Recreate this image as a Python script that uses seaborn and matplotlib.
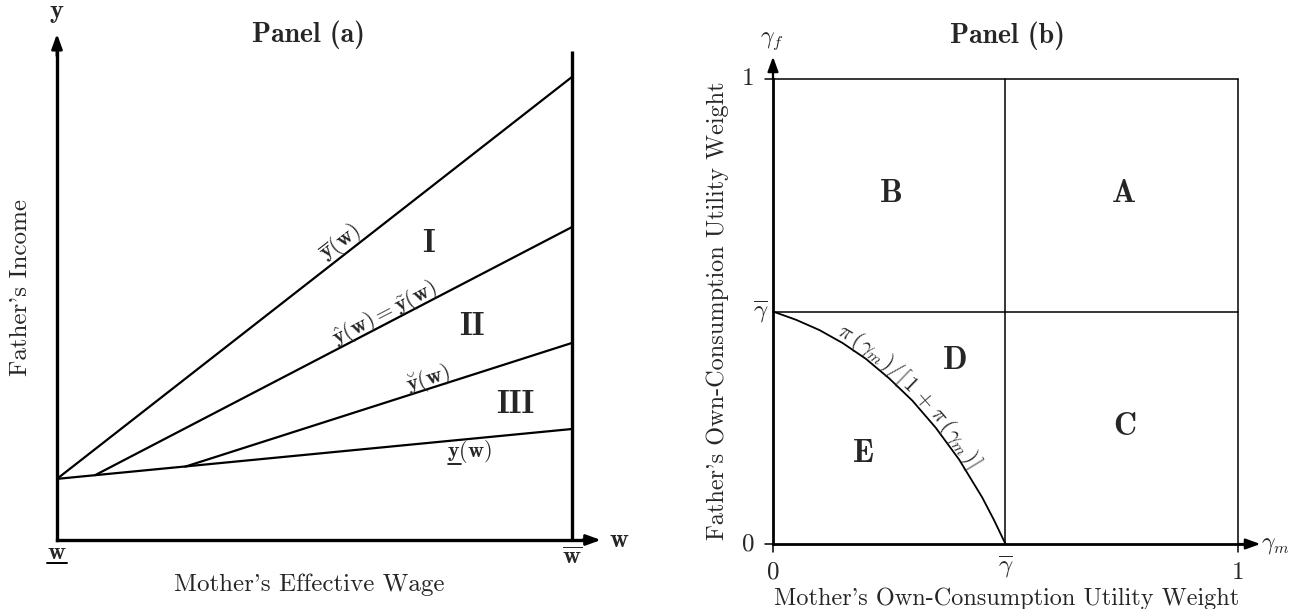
import matplotlib
matplotlib.use('Agg')
import matplotlib.pyplot as plt
import numpy as np
import pandas as pd
import seaborn as sns

# Panel (a): four income thresholds drawn from their kink to w_bar (w_low = 0, w_bar = 1)
line_names = ['ybar', 'yhat', 'ybreve', 'ylow']
line_w0 = [0.0, 0.074, 0.249, 0.0]
line_y0 = [0.125, 0.1326, 0.150, 0.125]
line_w1 = [1.0, 1.0, 1.0, 1.0]
line_y1 = [0.947, 0.640, 0.403, 0.227]
line_texts = [r'$\overline{\mathbf{y}}(\mathbf{w})$',
              r'$\hat{\mathbf{y}}(\mathbf{w}) = \tilde{\mathbf{y}}(\mathbf{w})$',
              r'$\breve{\mathbf{y}}(\mathbf{w})$',
              r'$\mathbf{y}(\mathbf{w})$']
regions_a = ['I', 'II', 'III']

# Panel (b): utility weight thresholds
gamma_bar = 0.5
curve_gm = [0.0, 0.05, 0.10, 0.15, 0.20, 0.25, 0.30, 0.35, 0.40, 0.45, 0.475, 0.50]
curve_gf = [0.5, 0.482, 0.460, 0.432, 0.398, 0.356, 0.308, 0.250, 0.182, 0.100, 0.052, 0.0]
curve_label = [r'$\pi$', r'$($', r'$\gamma_m$', r'$)$', r'$/$', r'$[$', r'$1$',
               r'$+$', r'$\pi$', r'$($', r'$\gamma_m$', r'$)$', r'$]$']
regions_b = ['A', 'B', 'C', 'D', 'E']

sns.set_theme(style='white')
plt.rcParams['font.family'] = ['cmr10', 'DejaVu Serif']
plt.rcParams['mathtext.fontset'] = 'cm'
plt.rcParams['axes.unicode_minus'] = False

W, H = 1295, 609
fig = plt.figure(figsize=(W / 100, H / 100), dpi=100)
fig.patch.set_facecolor('white')


def screen_angle(ax, x0, y0, x1, y1):
    p = ax.transData.transform([(x0, y0), (x1, y1)])
    return np.degrees(np.arctan2(p[1, 1] - p[0, 1], p[1, 0] - p[0, 0]))


def arrow(ax, start, end, lw):
    ax.annotate('', xy=end, xytext=start, annotation_clip=False,
                arrowprops=dict(arrowstyle='-|>,head_length=0.55,head_width=0.2',
                                lw=lw, color='black', shrinkA=0, shrinkB=0,
                                mutation_scale=16))


# ---------------- Panel (a) ----------------
axa = fig.add_axes([57 / W, (H - 540) / H, 515 / W, 489 / H])
axa.set_xlim(0, 1)
axa.set_ylim(0, 1)
axa.axis('off')

df_a = pd.DataFrame({
    'w': [v for pair in zip(line_w0, line_w1) for v in pair],
    'y': [v for pair in zip(line_y0, line_y1) for v in pair],
    'line': [n for n in line_names for _ in range(2)],
})
sns.lineplot(data=df_a, x='w', y='y', units='line', estimator=None, sort=False,
             color='black', lw=1.6, ax=axa)

axa.plot([0, 0], [0, 1.0], color='black', lw=2.4, solid_capstyle='projecting', clip_on=False)
axa.plot([0, 1.02], [0, 0], color='black', lw=2.4, solid_capstyle='projecting', clip_on=False)
arrow(axa, (0, 0.99), (0, 1.035), 2.0)
arrow(axa, (1.02, 0), (1.056, 0), 2.0)
axa.plot([1, 1], [0, 1], color='black', lw=2.4, solid_capstyle='butt', clip_on=False)

axa.text(0.489, 1.033, 'Panel (a)', family='cmb10', fontsize=20, ha='center', va='center')
axa.text(0.0, 1.077, r'$\mathbf{y}$', fontsize=19, ha='center', va='center')
axa.text(1.072, 0.0, r'$\mathbf{w}$', fontsize=19, ha='left', va='center')
axa.text(0.0, -0.027, r'$\mathbf{w}$', fontsize=18, ha='center', va='center')
axa.plot([-0.02, 0.02], [-0.047, -0.047], color='black', lw=1.4, clip_on=False)
axa.text(1.0, -0.035, r'$\overline{\mathbf{w}}$', fontsize=18, ha='center', va='center')

fig.canvas.draw()
renderer = fig.canvas.get_renderer()

label_pos = [(0.551, 0.609), (0.637, 0.464), (0.720, 0.329)]
for i, (x, y) in enumerate(label_pos):
    ang = screen_angle(axa, line_w0[i], line_y0[i], line_w1[i], line_y1[i])
    axa.text(x, y, line_texts[i], fontsize=16, rotation=ang,
             rotation_mode='anchor', ha='center', va='center')

# lower threshold label, with the underline drawn below the y
low = axa.text(0.757, 0.180, line_texts[3], fontsize=16, ha='left', va='center')
bb = low.get_window_extent(renderer)
ytmp = axa.text(0, 0, r'$\mathbf{y}$', fontsize=16)
yw = ytmp.get_window_extent(renderer).width
ytmp.remove()
inv = axa.transData.inverted()
u0 = inv.transform((bb.x0 + 1, bb.y0 + 1))
u1 = inv.transform((bb.x0 + 1 + yw, bb.y0 + 1))
axa.plot([u0[0], u1[0]], [u0[1], u1[1]], color='black', lw=1.2)

region_pos_a = [(0.722, 0.607), (0.806, 0.436), (0.889, 0.278)]
for txt, (x, y) in zip(regions_a, region_pos_a):
    axa.text(x, y, txt, family='cmb10', fontsize=23, ha='center', va='center')

axa.text(-0.070, 0.517, "Father's Income", fontsize=18, rotation=90,
         ha='center', va='center')
axa.text(0.489, -0.092, "Mother's Effective Wage", fontsize=18,
         ha='center', va='center')

# ---------------- Panel (b) ----------------
axb = fig.add_axes([773 / W, (H - 544) / H, 465 / W, 465 / H])
axb.set_xlim(0, 1)
axb.set_ylim(0, 1)
axb.axis('off')

thin = 1.1
for xs, ys in [([0, 1], [1, 1]), ([1, 1], [0, 1]),
               ([gamma_bar, gamma_bar], [0, 1]), ([0, 1], [gamma_bar, gamma_bar])]:
    axb.plot(xs, ys, color='black', lw=thin, clip_on=False)

sns.lineplot(x=curve_gm, y=curve_gf, sort=False, estimator=None,
             color='black', lw=1.3, ax=axb)

axb.plot([0, 0], [0, 1.0], color='black', lw=2.0, solid_capstyle='projecting', clip_on=False)
axb.plot([0, 1.02], [0, 0], color='black', lw=2.0, solid_capstyle='projecting', clip_on=False)
arrow(axb, (0, 1.0), (0, 1.048), 1.6)
arrow(axb, (1.0, 0), (1.048, 0), 1.6)

tick = 0.017
for v in [0, 1]:
    axb.plot([-tick, 0], [v, v], color='black', lw=thin, clip_on=False)
    axb.plot([v, v], [-tick, 0], color='black', lw=thin, clip_on=False)

axb.text(0.505, 1.094, 'Panel (b)', family='cmb10', fontsize=20, ha='center', va='center')
axb.text(-0.002, 1.082, r'$\gamma_f$', fontsize=17, ha='center', va='center')
axb.text(1.05, -0.002, r'$\gamma_m$', fontsize=17, ha='left', va='center')

axb.text(-0.054, 1.0, '1', fontsize=18, ha='center', va='center')
axb.text(-0.054, 0.0, '0', fontsize=18, ha='center', va='center')
axb.text(-0.026, gamma_bar, r'$\overline{\gamma}$', fontsize=18, ha='center', va='center')
axb.text(0.0, -0.062, '0', fontsize=18, ha='center', va='center')
axb.text(1.0, -0.062, '1', fontsize=18, ha='center', va='center')
axb.text(gamma_bar, -0.048, r'$\overline{\gamma}$', fontsize=18, ha='center', va='center')

region_pos_b = [(0.755, 0.753), (0.254, 0.753), (0.757, 0.252), (0.391, 0.394), (0.194, 0.194)]
for txt, (x, y) in zip(regions_b, region_pos_b):
    axb.text(x, y, txt, family='cmb10', fontsize=23, ha='center', va='center')

# curve label written along the curve, glyph by glyph
pts = axb.transData.transform(np.column_stack([curve_gm, curve_gf]))
seg = np.diff(pts, axis=0)
seglen = np.hypot(seg[:, 0], seg[:, 1])
cum = np.concatenate([[0], np.cumsum(seglen)])


def point_at(s):
    i = int(np.clip(np.searchsorted(cum, s) - 1, 0, len(seglen) - 1))
    return pts[i] + (s - cum[i]) / seglen[i] * seg[i]


label_size = 16
widths = []
for piece in curve_label:
    t = axb.text(0, 0, piece, fontsize=label_size)
    widths.append(t.get_window_extent(renderer).width)
    t.remove()
gap = 0.5
extra = {7: 5.0}  # spaces around the plus sign
total = sum(widths) + gap * (len(widths) - 1) + 2 * extra[7]
s_mid = np.interp(0.29, curve_gm, cum)
s = s_mid - total / 2
binv = axb.transData.inverted()
for k, (piece, w) in enumerate(zip(curve_label, widths)):
    s += extra.get(k, 0)
    sc = s + w / 2
    d = point_at(sc + 6) - point_at(sc - 6)
    ang = np.arctan2(d[1], d[0])
    normal = np.array([-np.sin(ang), np.cos(ang)])
    p = point_at(sc) + normal * 4.5
    x, y = binv.transform(p)
    axb.text(x, y, piece, fontsize=label_size, rotation=np.degrees(ang),
             rotation_mode='anchor', ha='center', va='baseline')
    s += w + gap + extra.get(k, 0)

axb.text(-0.118, 0.501, "Father's Own-Consumption Utility Weight", fontsize=17.5,
         rotation=90, ha='center', va='center')
axb.text(0.503, -0.118, "Mother's Own-Consumption Utility Weight", fontsize=17.5,
         ha='center', va='center')

fig.savefig('out.png', dpi=100, facecolor='white')
